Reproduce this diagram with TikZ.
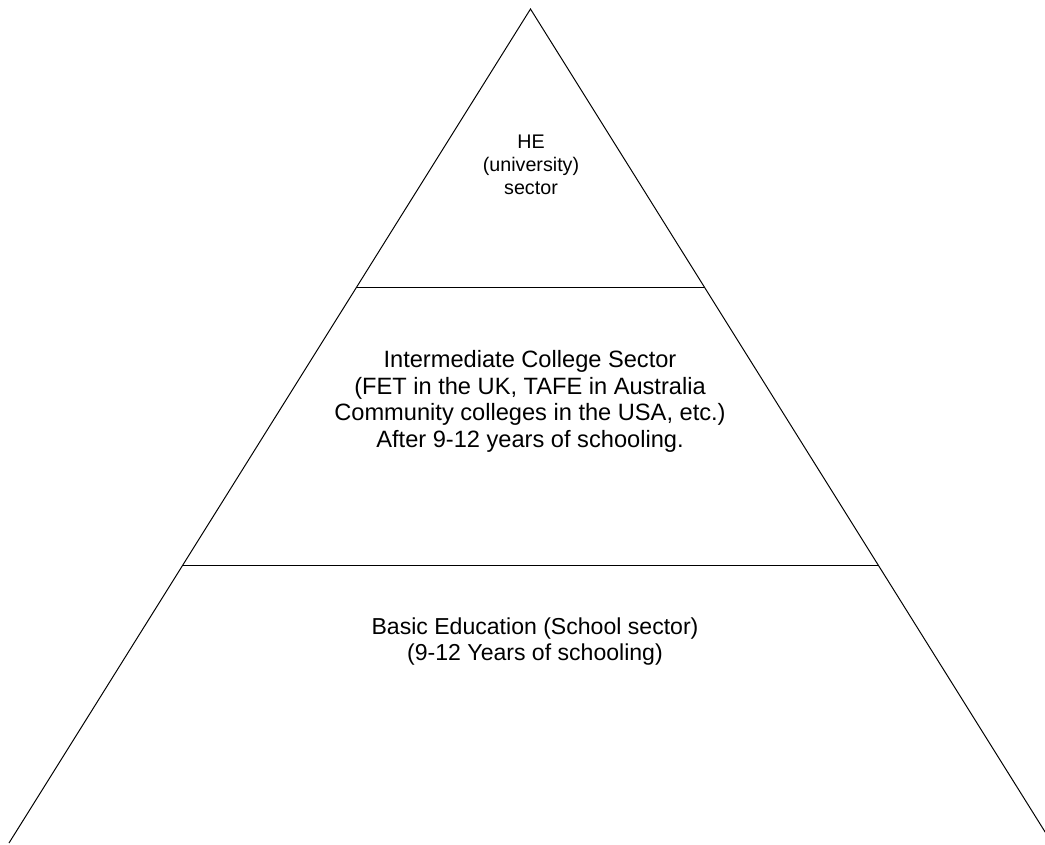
\documentclass[tikz,border=0pt]{standalone}
\usepackage{fontspec}
\setmainfont{Liberation Sans}
\usetikzlibrary{calc, positioning}
\tikzset{
  %% Pyramid outline and tier dividers
  pyrline/.style={draw=black, line width=0.7pt},
  %% Tier label
  tier/.style={
    align=center, inner sep=0pt,
    font=\fontsize{16.4}{18.9}\selectfont
  },
  %% Middle tier label
  midtier/.style={
    tier, font=\fontsize{16.8}{18.9}\selectfont
  },
  %% Top tier label
  toptier/.style={
    tier, font=\fontsize{14}{16.4}\selectfont
  },
}

\begin{document}
\begin{tikzpicture}[x=0.025cm, y=-0.025cm]
  \useasboundingbox (0,0) rectangle (1045,844);
  \clip (0,0) rectangle (1045,844);

  %% Pyramid corners
  \coordinate (apex)  at (530.5,9);
  \coordinate (baseL) at (9,843);
  \coordinate (baseR) at (1052,843);

  %% Divider end points
  \coordinate (upL)  at ($(apex)!1/3!(baseL)$);
  \coordinate (upR)  at ($(apex)!1/3!(baseR)$);
  \coordinate (lowL) at ($(apex)!2/3!(baseL)$);
  \coordinate (lowR) at ($(apex)!2/3!(baseR)$);

  %% Sides
  \draw[pyrline] (baseL) -- (apex) -- (baseR);

  %% Dividers
  \draw[pyrline] (upL) -- (upR);
  \draw[pyrline] (lowL) -- (lowR);

  %% Tier labels
  \node[toptier] (he) at (531,165) {HE\\(university)\\sector};
  \node[midtier] (college) at (530,401.5)
       {Intermediate College Sector\\(FET in the UK, TAFE in Australia\\
        Community colleges in the USA, etc.)\\After 9-12 years of schooling.};
  \node[tier] (school) at (535,641.5)
       {Basic Education (School sector)\\(9-12 Years of schooling)};

\end{tikzpicture}
\end{document}
